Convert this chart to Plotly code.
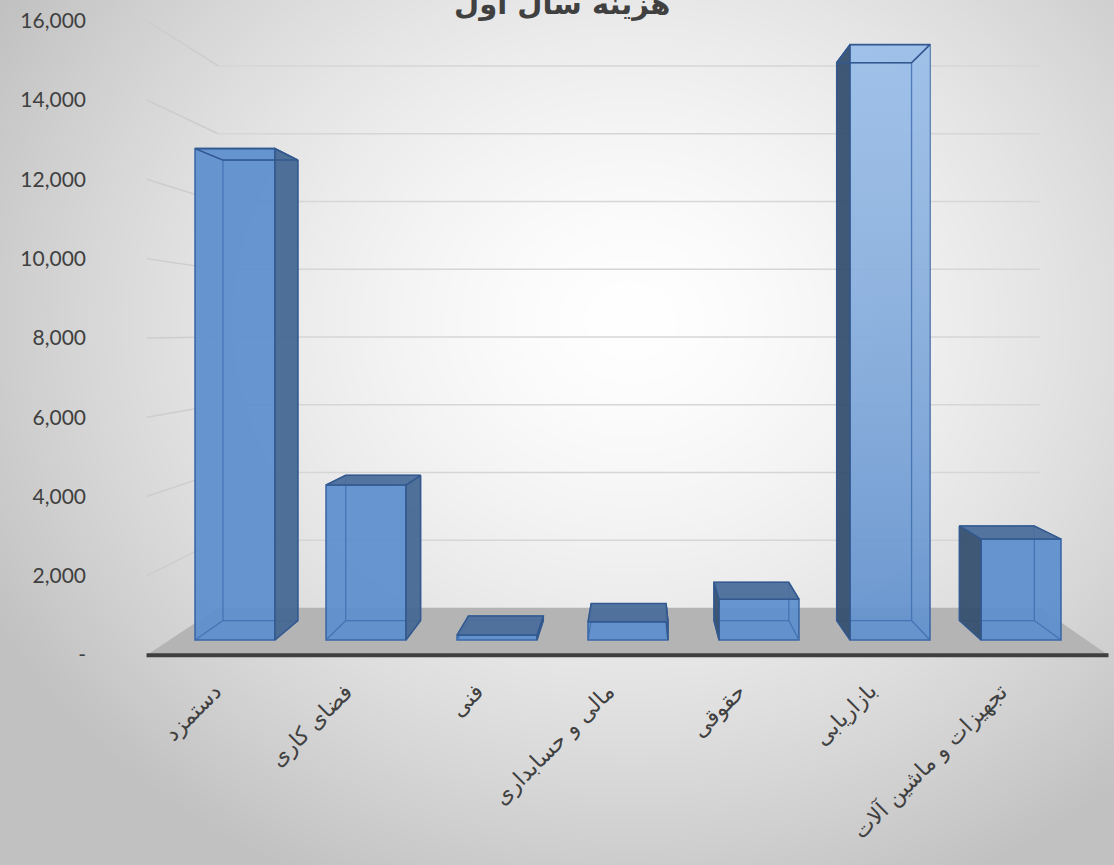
import base64
import struct
import zlib

import numpy as np
import plotly.graph_objects as go

# ---------------- data ----------------
categories = ["دستمزد", "فضای کاری", "فنی", "مالی و حسابداری", "حقوقی", "بازاریابی", "تجهیزات و ماشین آلات"]
values = [13000, 4100, 130, 480, 1080, 15750, 2670]
tick_values = [0, 2000, 4000, 6000, 8000, 10000, 12000, 14000, 16000]
tick_labels = ["-", "2,000", "4,000", "6,000", "8,000", "10,000", "12,000", "14,000", "16,000"]
title_text = "هزینه سال اول"

# ---------------- geometry (perspective look) ----------------
W, H = 1114, 865
X0_PX, X_STEP_PX = 235.0, 131.0          # pixel of category 0, pixels per category
Y0_PX, Y_PX_PER_UNIT = 640.0, 0.0378     # pixel of value 0 (front plane), pixels per unit
x_range = [(0 - X0_PX) / X_STEP_PX, (W - X0_PX) / X_STEP_PX]
y_range = [(Y0_PX - H) / Y_PX_PER_UNIT, Y0_PX / Y_PX_PER_UNIT]

VX = (638 - X0_PX) / X_STEP_PX           # vanishing point in data units
VY = (Y0_PX - 331) / Y_PX_PER_UNIT
K_BACK, K_WALL, K_LABEL = 0.937, 0.896, 1.049
HW = 0.305
XL, XR = -0.5, len(categories) - 0.5


def proj(x, y, k):
    return VX + (x - VX) * k, VY + (y - VY) * k


def path(points):
    return "M " + " L ".join(f"{px:.4f},{py:.4f}" for px, py in points) + " Z"


# ---------------- background gradient image ----------------
def gradient_png():
    w, h = 557, 433
    ys, xs = np.mgrid[0:h, 0:w]
    d = np.hypot((xs * 2 - 630) / 650.0, (ys * 2 - 320) / 560.0)
    val = 255 - 52 * np.clip(d, 0, 1.12) ** 1.5
    img = np.clip(val, 0, 255).astype(np.uint8)
    raw = b"".join(b"\x00" + img[r].tobytes() for r in range(h))

    def chunk(tag, data):
        return struct.pack(">I", len(data)) + tag + data + struct.pack(">I", zlib.crc32(tag + data) & 0xFFFFFFFF)

    png = (b"\x89PNG\r\n\x1a\n" + chunk(b"IHDR", struct.pack(">IIBBBBB", w, h, 8, 0, 0, 0, 0))
           + chunk(b"IDAT", zlib.compress(raw, 9)) + chunk(b"IEND", b""))
    return "data:image/png;base64," + base64.b64encode(png).decode()


shapes = []
# floor
shapes.append(dict(type="path", xref="x", yref="y", layer="below",
                   path=path([proj(XL, 0, K_WALL), proj(XR, 0, K_WALL), proj(XR, 0, K_LABEL), proj(XL, 0, K_LABEL)]),
                   fillcolor="#b4b4b4", line=dict(width=0)))
# gridlines on back wall and side wall
for t in tick_values[1:]:
    (ax, ay), (bx, by) = proj(XL, t, K_WALL), proj(XR, t, K_WALL)
    shapes.append(dict(type="line", xref="x", yref="y", layer="below", x0=ax, y0=ay, x1=bx, y1=by,
                       line=dict(color="#d6d6d6", width=1.5)))
    (cx, cy) = proj(XL, t, K_LABEL)
    shapes.append(dict(type="line", xref="x", yref="y", layer="below", x0=cx, y0=cy, x1=ax, y1=ay,
                       line=dict(color="#cdcdcd", width=1.5)))
# front axis line
(ax, ay), (bx, by) = proj(XL, 0, K_LABEL), proj(XR, 0, K_LABEL)
shapes.append(dict(type="line", xref="x", yref="y", layer="above", x0=ax, y0=ay, x1=bx, y1=by,
                   line=dict(color="#3f3f3f", width=4)))

fig = go.Figure()

xs_idx = list(range(len(categories)))
front_color = "rgba(92,142,204,0.93)"
glow = [0, 0, 0, 0, 0, 1, 0]   # highlighted (lighter) bar
fig.add_trace(go.Bar(x=xs_idx, y=values, width=2 * HW, marker=dict(color=front_color,
                     line=dict(color="#3a67a6", width=1.6)), hoverinfo="skip", showlegend=False))

for i, v, g in zip(xs_idx, values, glow):
    FL, FR, TL, TR = (i - HW, 0), (i + HW, 0), (i - HW, v), (i + HW, v)
    bFL, bFR, bTL, bTR = (proj(*p, K_BACK) for p in (FL, FR, TL, TR))
    if g:
        face = [FL, TL, TR, FR, FL]
        fig.add_trace(go.Scatter(x=[p[0] for p in face], y=[p[1] for p in face], mode="lines",
                                 line=dict(width=0), fill="toself",
                                 fillgradient=dict(type="vertical",
                                                   colorscale=[[0, "rgba(255,255,255,0.02)"],
                                                               [1, "rgba(205,230,255,0.55)"]]),
                                 hoverinfo="skip", showlegend=False))
    # hidden edges seen through the translucent box
    ex, ey = [], []
    for a, b in [(bFL, bTL), (bTL, bTR), (bTR, bFR), (bFR, bFL), (FL, bFL), (FR, bFR), (TL, bTL), (TR, bTR)]:
        ex += [a[0], b[0], None]
        ey += [a[1], b[1], None]
    fig.add_trace(go.Scatter(x=ex, y=ey, mode="lines", line=dict(color="rgba(62,110,178,0.85)", width=1.3),
                             hoverinfo="skip", showlegend=False))
    # side face
    if i < VX:
        side = [FR, TR, bTR, bFR]
        side_col = "rgba(70,104,146,0.95)"
    else:
        side = [FL, TL, bTL, bFL]
        side_col = "rgba(54,80,112,0.95)"
    fig.add_trace(go.Scatter(x=[p[0] for p in side] + [side[0][0]], y=[p[1] for p in side] + [side[0][1]],
                             mode="lines", fill="toself", fillcolor=side_col,
                             line=dict(color="#33598f", width=1.5), hoverinfo="skip", showlegend=False))
    # cap
    cap = [TL, TR, bTR, bTL]
    cap_col = "rgba(76,110,156,0.95)" if v < VY else "rgba(0,0,0,0)"
    fig.add_trace(go.Scatter(x=[p[0] for p in cap] + [cap[0][0]], y=[p[1] for p in cap] + [cap[0][1]],
                             mode="lines", fill="toself", fillcolor=cap_col,
                             line=dict(color="#33598f", width=1.5), hoverinfo="skip", showlegend=False))

annotations = []
for i, name in zip(xs_idx, categories):
    annotations.append(dict(x=i, y=1 - 676 / H, xref="x", yref="paper", text=name, showarrow=False,
                            textangle=-45, xanchor="right", yanchor="top", xshift=-6,
                            font=dict(family="DejaVu Sans", size=22, color="#404040")))
annotations.append(dict(x=562 / W, y=1 - 4 / H, xref="paper", yref="paper", text=f"<b>{title_text}</b>",
                        showarrow=False, xanchor="center", yanchor="middle",
                        font=dict(family="DejaVu Sans", size=29, color="#404040")))

fig.update_layout(
    width=W, height=H, margin=dict(l=0, r=0, t=0, b=0),
    paper_bgcolor="#e6e6e6", plot_bgcolor="rgba(0,0,0,0)",
    images=[dict(source=gradient_png(), xref="paper", yref="paper", x=0, y=1, sizex=1, sizey=1,
                 sizing="stretch", layer="below", xanchor="left", yanchor="top")],
    shapes=shapes, annotations=annotations,
    xaxis=dict(range=x_range, showgrid=False, zeroline=False, showticklabels=False, showline=False, fixedrange=True),
    yaxis=dict(range=y_range, showgrid=False, zeroline=False, showline=False, anchor="free", position=86 / W,
               tickvals=[VY + (t - VY) * K_LABEL for t in tick_values], ticktext=tick_labels,
               tickfont=dict(family="Lato, Open Sans, sans-serif", size=21, color="#404040"), fixedrange=True),
    showlegend=False,
)

fig.write_html("out.html", config={"displayModeBar": False}, post_script=[
    "document.documentElement.style.margin='0';document.body.style.margin='0';"
    "document.body.style.padding='0';document.body.style.overflow='hidden';"
])
